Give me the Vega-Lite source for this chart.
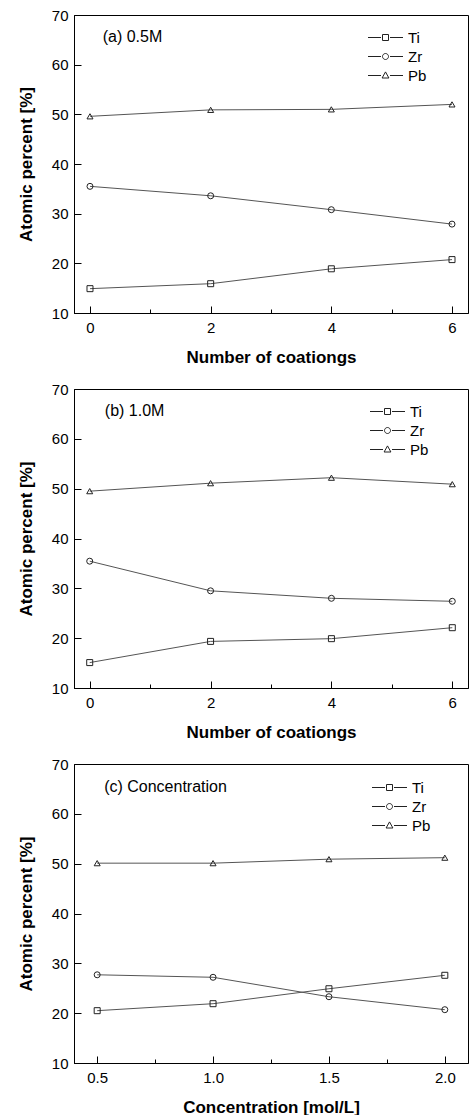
{
  "$schema": "https://vega.github.io/schema/vega-lite/v6.json",
  "padding": {"left": 16, "top": 7, "right": 0, "bottom": 0},
  "background": "white",
  "datasets": {
    "a": [
      {"n": 0, "element": "Ti", "pct": 14.9}, {"n": 2, "element": "Ti", "pct": 15.9}, {"n": 4, "element": "Ti", "pct": 18.9}, {"n": 6, "element": "Ti", "pct": 20.75},
      {"n": 0, "element": "Zr", "pct": 35.5}, {"n": 2, "element": "Zr", "pct": 33.6}, {"n": 4, "element": "Zr", "pct": 30.8}, {"n": 6, "element": "Zr", "pct": 27.9},
      {"n": 0, "element": "Pb", "pct": 49.6}, {"n": 2, "element": "Pb", "pct": 50.9}, {"n": 4, "element": "Pb", "pct": 51.0}, {"n": 6, "element": "Pb", "pct": 52.0}
    ],
    "b": [
      {"n": 0, "element": "Ti", "pct": 15.1}, {"n": 2, "element": "Ti", "pct": 19.35}, {"n": 4, "element": "Ti", "pct": 19.9}, {"n": 6, "element": "Ti", "pct": 22.1},
      {"n": 0, "element": "Zr", "pct": 35.45}, {"n": 2, "element": "Zr", "pct": 29.5}, {"n": 4, "element": "Zr", "pct": 28.0}, {"n": 6, "element": "Zr", "pct": 27.4},
      {"n": 0, "element": "Pb", "pct": 49.5}, {"n": 2, "element": "Pb", "pct": 51.1}, {"n": 4, "element": "Pb", "pct": 52.2}, {"n": 6, "element": "Pb", "pct": 50.9}
    ],
    "c": [
      {"n": 0.5, "element": "Ti", "pct": 20.5}, {"n": 1.0, "element": "Ti", "pct": 21.9}, {"n": 1.5, "element": "Ti", "pct": 24.9}, {"n": 2.0, "element": "Ti", "pct": 27.6},
      {"n": 0.5, "element": "Zr", "pct": 27.7}, {"n": 1.0, "element": "Zr", "pct": 27.2}, {"n": 1.5, "element": "Zr", "pct": 23.3}, {"n": 2.0, "element": "Zr", "pct": 20.7},
      {"n": 0.5, "element": "Pb", "pct": 50.1}, {"n": 1.0, "element": "Pb", "pct": 50.1}, {"n": 1.5, "element": "Pb", "pct": 50.9}, {"n": 2.0, "element": "Pb", "pct": 51.2}
    ],
    "la": [{"label": "(a) 0.5M"}],
    "lb": [{"label": "(b) 1.0M"}],
    "lc": [{"label": "(c) Concentration"}]
  },
  "spacing": 76,
  "bounds": "flush",
  "vconcat": [
    {
      "width": 394, "height": 298,
      "data": {"name": "a"},
      "layer": [
        {"mark": {"type": "line", "stroke": "#555", "strokeWidth": 1},
          "encoding": {
            "x": {"field": "n", "type": "quantitative", "scale": {"domain": [-0.265, 6.265], "nice": false, "zero": false},
              "axis": {"title": "Number of coationgs", "values": [0, 1, 2, 3, 4, 5, 6], "format": "d", "labelExpr": "datum.value % 2 == 0 ? datum.label : ''",
                "tickSize": {"condition": {"test": "datum.value % 2 == 0", "value": -7}, "value": -4}, "labelPadding": 14, "titlePadding": 11}},
            "y": {"field": "pct", "type": "quantitative", "scale": {"domain": [10, 70], "nice": false, "zero": false},
              "axis": {"title": "Atomic percent [%]", "values": [10, 15, 20, 25, 30, 35, 40, 45, 50, 55, 60, 65, 70], "labelExpr": "datum.value % 10 == 0 ? datum.label : ''",
                "tickSize": {"condition": {"test": "datum.value % 10 == 0", "value": -7}, "value": -4}, "labelPadding": 13, "titlePadding": 16}},
            "detail": {"field": "element"}}},
        {"mark": {"type": "point", "filled": false, "stroke": "#222", "strokeWidth": 1, "size": 36, "opacity": 1},
          "encoding": {"x": {"field": "n", "type": "quantitative"}, "y": {"field": "pct", "type": "quantitative"},
            "shape": {"field": "element", "scale": {"domain": ["Ti", "Zr", "Pb"], "range": ["square", "circle", "triangle-up"]}, "legend": null}}},
        {"mark": {"type": "point", "filled": false, "stroke": "#222", "strokeWidth": 1, "opacity": 0},
          "encoding": {"x": {"field": "n", "type": "quantitative"}, "y": {"field": "pct", "type": "quantitative"},
            "shape": {"field": "element", "scale": {"domain": ["Ti", "Zr", "Pb"], "range": [
            "M-1.75,0H-0.45M0.45,0H1.75M-0.3,-0.3H0.3V0.3H-0.3Z",
            "M-1.75,0H-0.45M0.45,0H1.75M0.3,0A0.3,0.3,0,1,1,-0.3,0A0.3,0.3,0,1,1,0.3,0Z",
            "M-1.75,0H-0.45M0.45,0H1.75M0,-0.36L0.34,0.25H-0.34Z"]},
            "legend": {"title": null, "orient": "none", "legendX": 301, "legendY": 12}}}},
        {"data": {"name": "la"}, "mark": {"type": "text", "align": "left", "baseline": "middle", "font": "Liberation Sans", "fontSize": 16, "color": "#000"},
          "encoding": {"x": {"datum": 0.21, "type": "quantitative"}, "y": {"datum": 65.6, "type": "quantitative"}, "text": {"field": "label"}}}
      ],
      "resolve": {"scale": {"shape": "independent"}}
    },
    {
      "width": 394, "height": 299,
      "data": {"name": "b"},
      "layer": [
        {"mark": {"type": "line", "stroke": "#555", "strokeWidth": 1},
          "encoding": {
            "x": {"field": "n", "type": "quantitative", "scale": {"domain": [-0.26, 6.26], "nice": false, "zero": false},
              "axis": {"title": "Number of coationgs", "values": [0, 1, 2, 3, 4, 5, 6], "format": "d", "labelExpr": "datum.value % 2 == 0 ? datum.label : ''",
                "tickSize": {"condition": {"test": "datum.value % 2 == 0", "value": -7}, "value": -4}, "labelPadding": 14, "titlePadding": 11}},
            "y": {"field": "pct", "type": "quantitative", "scale": {"domain": [10, 70], "nice": false, "zero": false},
              "axis": {"title": "Atomic percent [%]", "values": [10, 15, 20, 25, 30, 35, 40, 45, 50, 55, 60, 65, 70], "labelExpr": "datum.value % 10 == 0 ? datum.label : ''",
                "tickSize": {"condition": {"test": "datum.value % 10 == 0", "value": -7}, "value": -4}, "labelPadding": 13, "titlePadding": 16}},
            "detail": {"field": "element"}}},
        {"mark": {"type": "point", "filled": false, "stroke": "#222", "strokeWidth": 1, "size": 36, "opacity": 1},
          "encoding": {"x": {"field": "n", "type": "quantitative"}, "y": {"field": "pct", "type": "quantitative"},
            "shape": {"field": "element", "scale": {"domain": ["Ti", "Zr", "Pb"], "range": ["square", "circle", "triangle-up"]}, "legend": null}}},
        {"mark": {"type": "point", "filled": false, "stroke": "#222", "strokeWidth": 1, "opacity": 0},
          "encoding": {"x": {"field": "n", "type": "quantitative"}, "y": {"field": "pct", "type": "quantitative"},
            "shape": {"field": "element", "scale": {"domain": ["Ti", "Zr", "Pb"], "range": [
            "M-1.75,0H-0.45M0.45,0H1.75M-0.3,-0.3H0.3V0.3H-0.3Z",
            "M-1.75,0H-0.45M0.45,0H1.75M0.3,0A0.3,0.3,0,1,1,-0.3,0A0.3,0.3,0,1,1,0.3,0Z",
            "M-1.75,0H-0.45M0.45,0H1.75M0,-0.36L0.34,0.25H-0.34Z"]},
            "legend": {"title": null, "orient": "none", "legendX": 303, "legendY": 12}}}},
        {"data": {"name": "lb"}, "mark": {"type": "text", "align": "left", "baseline": "middle", "font": "Liberation Sans", "fontSize": 16, "color": "#000"},
          "encoding": {"x": {"datum": 0.25, "type": "quantitative"}, "y": {"datum": 65.6, "type": "quantitative"}, "text": {"field": "label"}}}
      ],
      "resolve": {"scale": {"shape": "independent"}}
    },
    {
      "width": 394, "height": 299,
      "data": {"name": "c"},
      "layer": [
        {"mark": {"type": "line", "stroke": "#555", "strokeWidth": 1},
          "encoding": {
            "x": {"field": "n", "type": "quantitative", "scale": {"domain": [0.4, 2.1], "nice": false, "zero": false},
              "axis": {"title": "Concentration [mol/L]", "values": [0.5, 0.75, 1.0, 1.25, 1.5, 1.75, 2.0], "format": ".1f", "labelExpr": "(datum.value * 100) % 50 == 0 ? datum.label : ''",
                "tickSize": {"condition": {"test": "(datum.value * 100) % 50 == 0", "value": -7}, "value": -4}, "labelPadding": 14, "titlePadding": 11}},
            "y": {"field": "pct", "type": "quantitative", "scale": {"domain": [10, 70], "nice": false, "zero": false},
              "axis": {"title": "Atomic percent [%]", "values": [10, 15, 20, 25, 30, 35, 40, 45, 50, 55, 60, 65, 70], "labelExpr": "datum.value % 10 == 0 ? datum.label : ''",
                "tickSize": {"condition": {"test": "datum.value % 10 == 0", "value": -7}, "value": -4}, "labelPadding": 13, "titlePadding": 16}},
            "detail": {"field": "element"}}},
        {"mark": {"type": "point", "filled": false, "stroke": "#222", "strokeWidth": 1, "size": 36, "opacity": 1},
          "encoding": {"x": {"field": "n", "type": "quantitative"}, "y": {"field": "pct", "type": "quantitative"},
            "shape": {"field": "element", "scale": {"domain": ["Ti", "Zr", "Pb"], "range": ["square", "circle", "triangle-up"]}, "legend": null}}},
        {"mark": {"type": "point", "filled": false, "stroke": "#222", "strokeWidth": 1, "opacity": 0},
          "encoding": {"x": {"field": "n", "type": "quantitative"}, "y": {"field": "pct", "type": "quantitative"},
            "shape": {"field": "element", "scale": {"domain": ["Ti", "Zr", "Pb"], "range": [
            "M-1.75,0H-0.45M0.45,0H1.75M-0.3,-0.3H0.3V0.3H-0.3Z",
            "M-1.75,0H-0.45M0.45,0H1.75M0.3,0A0.3,0.3,0,1,1,-0.3,0A0.3,0.3,0,1,1,0.3,0Z",
            "M-1.75,0H-0.45M0.45,0H1.75M0,-0.36L0.34,0.25H-0.34Z"]},
            "legend": {"title": null, "orient": "none", "legendX": 305, "legendY": 13}}}},
        {"data": {"name": "lc"}, "mark": {"type": "text", "align": "left", "baseline": "middle", "font": "Liberation Sans", "fontSize": 16, "color": "#000"},
          "encoding": {"x": {"datum": 0.53, "type": "quantitative"}, "y": {"datum": 65.4, "type": "quantitative"}, "text": {"field": "label"}}}
      ],
      "resolve": {"scale": {"shape": "independent"}}
    }
  ],
  "config": {
    "view": {"stroke": "#000", "strokeWidth": 1},
    "axis": {"grid": false, "domainColor": "#000", "domainWidth": 1, "tickColor": "#000", "tickWidth": 1,
      "labelFont": "Liberation Sans", "labelFontSize": 15, "labelColor": "#000", "labelOverlap": false, "labelFlush": false,
      "titleFont": "Liberation Sans", "titleFontSize": 17, "titleFontWeight": "bold", "titleColor": "#000"},
    "legend": {"symbolSize": 400, "symbolStrokeWidth": 1, "symbolOpacity": 1,
      "labelFont": "Liberation Sans", "labelFontSize": 15, "labelColor": "#000", "labelOffset": 12, "rowPadding": 0, "padding": 0}
  }
}
